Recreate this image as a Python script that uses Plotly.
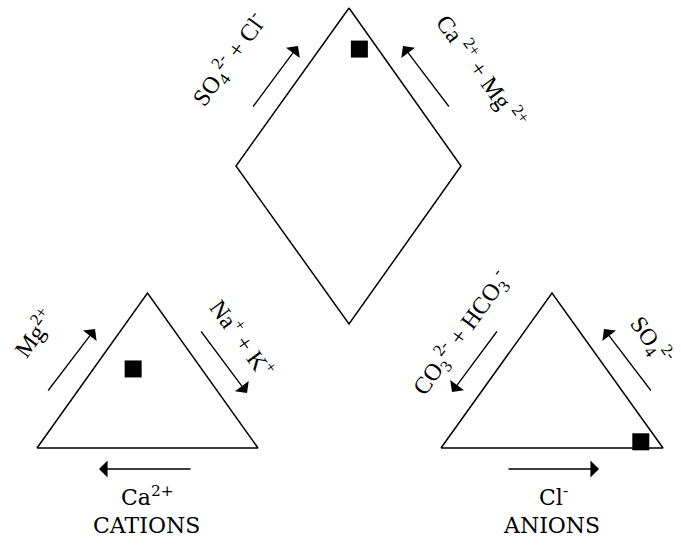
import plotly.graph_objects as go

# Sample composition (percent of meq/L)
cation_names = ["Ca2+", "Mg2+", "Na+ + K+"]
cation_values = [31, 51, 18]
anion_names = ["CO3 2- + HCO3 -", "SO4 2-", "Cl-"]
anion_values = [8, 4, 88]

# Figure geometry in page pixels (y grows downward)
CAT_BL, CAT_BR, CAT_TOP = (37, 448), (258, 448), (147.5, 293)
AN_BL, AN_BR, AN_TOP = (441, 448), (663, 448), (552, 293)
D_TOP, D_LEFT, D_RIGHT, D_BOT = (349, 8), (236, 166), (461, 166), (349, 324)

SERIF = "Liberation Serif, Times New Roman, serif"
SLAB = "DejaVu Serif, serif"
INK = "black"


def ternary(weights, corners):
    tot = sum(weights)
    x = sum(w * c[0] for w, c in zip(weights, corners)) / tot
    y = sum(w * c[1] for w, c in zip(weights, corners)) / tot
    return x, y


ca, mg, nak = cation_values
hco3, so4, cl = anion_values
cat_pt = ternary([ca, nak, mg], [CAT_BL, CAT_BR, CAT_TOP])
an_pt = ternary([hco3, cl, so4], [AN_BL, AN_BR, AN_TOP])

camg = (ca + mg) / sum(cation_values)
so4cl = (so4 + cl) / sum(anion_values)
dia_pt = (
    D_BOT[0] + camg * (D_LEFT[0] - D_BOT[0]) + so4cl * (D_RIGHT[0] - D_BOT[0]),
    D_BOT[1] + camg * (D_LEFT[1] - D_BOT[1]) + so4cl * (D_RIGHT[1] - D_BOT[1]),
)

fig = go.Figure()

outlines = [
    [CAT_BL, CAT_BR, CAT_TOP, CAT_BL],
    [AN_BL, AN_BR, AN_TOP, AN_BL],
    [D_TOP, D_RIGHT, D_BOT, D_LEFT, D_TOP],
]
for poly in outlines:
    fig.add_trace(go.Scatter(
        x=[p[0] for p in poly], y=[p[1] for p in poly], mode="lines",
        line=dict(color=INK, width=1.5), hoverinfo="skip", showlegend=False,
    ))

fig.add_trace(go.Scatter(
    x=[cat_pt[0], an_pt[0], dia_pt[0]], y=[cat_pt[1], an_pt[1], dia_pt[1]],
    mode="markers", marker=dict(symbol="square", size=17, color=INK),
    showlegend=False,
))

# Direction arrows: (tail, head)
arrows = [
    ((252, 108), (298, 46)),
    ((450, 108), (403, 46)),
    ((47, 392), (95, 329)),
    ((200, 330), (247, 393)),
    ((498, 330), (452, 392)),
    ((652, 392), (604, 329)),
    ((192, 469), (99, 469)),
    ((507, 469), (599, 469)),
]
for tail, head in arrows:
    fig.add_annotation(
        x=head[0], y=head[1], ax=tail[0], ay=tail[1], xref="x", yref="y",
        axref="x", ayref="y", text="", showarrow=True, arrowhead=1,
        arrowsize=2.2, arrowwidth=1.3, arrowcolor=INK,
    )

labels = [
    ("SO<sub>4</sub><sup>2-</sup> + Cl<sup>-</sup>", 229, 60, -54, 24, SERIF),
    ("Ca <sup>2+</sup> + Mg <sup>2+</sup>", 482, 70, 54, 24, SERIF),
    ("Mg<sup>2+</sup>", 33, 333, -54, 24, SERIF),
    ("Na<sup>+</sup> + K<sup>+</sup>", 243, 338, 54, 24, SERIF),
    ("CO<sub>3</sub><sup>2-</sup> + HCO<sub>3</sub><sup>-</sup>", 461, 333, -54, 24, SERIF),
    ("SO<sub>4</sub><sup>2-</sup>", 651, 340, 54, 24, SERIF),
    ("Ca<sup>2+</sup>", 147, 496, 0, 22, SLAB),
    ("CATIONS", 146, 525, 0, 22, SLAB),
    ("Cl<sup>-</sup>", 553, 496, 0, 22, SLAB),
    ("ANIONS", 551, 525, 0, 22, SLAB),
]
for text, x, y, ang, size, family in labels:
    fig.add_annotation(
        x=x, y=y, xref="x", yref="y", text=text, showarrow=False,
        textangle=ang, xanchor="center", yanchor="middle",
        font=dict(family=family, size=size, color=INK),
    )

fig.update_xaxes(range=[0, 681], visible=False)
fig.update_yaxes(range=[545, 0], visible=False)
fig.update_layout(
    width=681, height=545, margin=dict(l=0, r=0, t=0, b=0),
    plot_bgcolor="white", paper_bgcolor="white",
)

fig.write_html("out.html")
